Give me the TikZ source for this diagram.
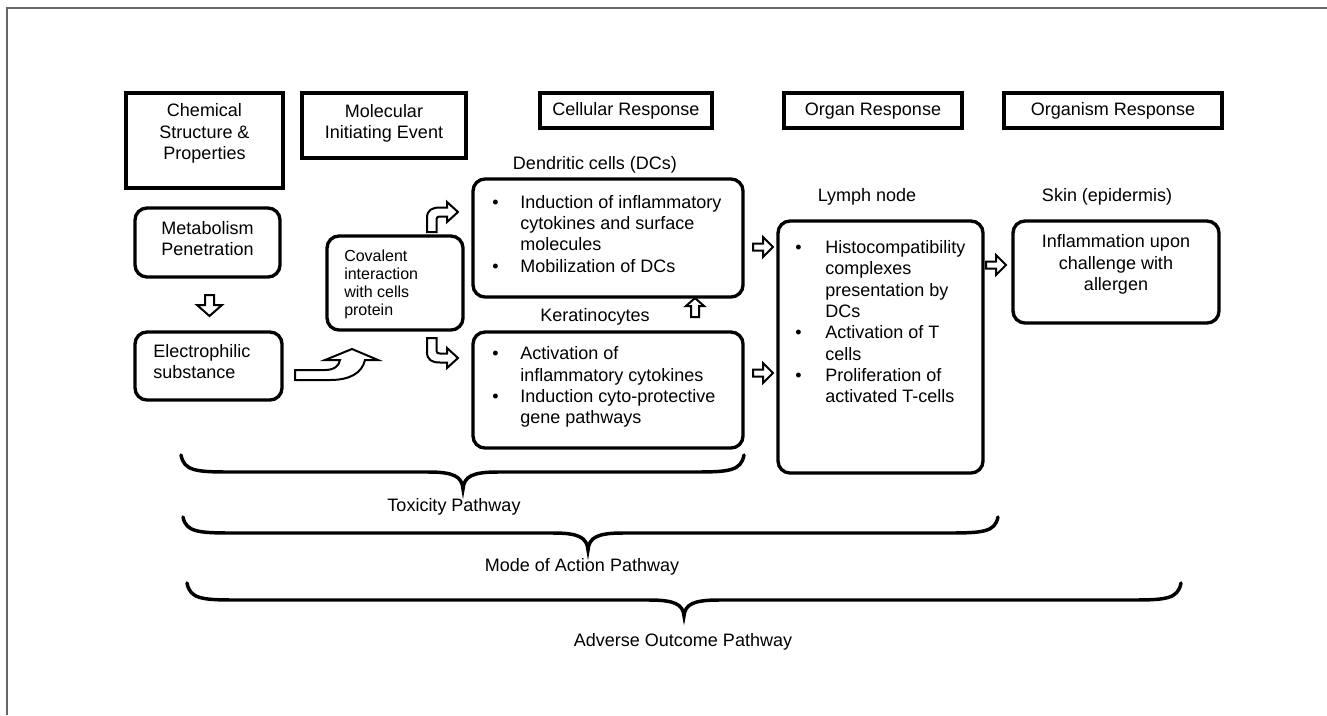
\documentclass[tikz,border=0pt]{standalone}
\usepackage{fontspec}
\setmainfont{Liberation Sans}
\usepackage{array}
\usetikzlibrary{fit}
\newcommand\mylines[1]{\begin{tabular}{@{}c@{}}#1\end{tabular}}
\newcommand\myleft[1]{\begin{tabular}{@{}l@{}}#1\end{tabular}}
\newcommand\mybul[2]{\begin{tabular}{@{}p{#1}@{}l@{}}#2\end{tabular}}
\newcommand\rarr[2]{\draw[blk] (#1,#2-3.5) -- ++(10,0) -- ++(0,-6.5) -- ++(10,10) -- ++(-10,10) -- ++(0,-6.5) -- ++(-10,0) -- cycle;}
\newcommand\mybrace[6]{\draw[brc] (#1,#4) .. controls (#1+3,#5-1) and (#1+15,#5) .. (#1+50,#5) -- (#3-35,#5) .. controls (#3-10,#5) and (#3-1,#5+4) .. (#3,#6) .. controls (#3+1,#5+4) and (#3+10,#5) .. (#3+35,#5) -- (#2-50,#5) .. controls (#2-15,#5) and (#2-3,#5-1) .. (#2,#4);}
\tikzset{
  hdr/.style={draw, line width=2.8pt, inner sep=0pt},
  rbox/.style={draw, line width=2.5pt, rounded corners=9pt, inner sep=0pt},
  blk/.style={draw, line width=1.5pt, fill=white, line join=miter},
  brc/.style={line width=2.6pt, line cap=round},
  txt/.style={inner sep=0pt, font=\fontsize{13.5}{16}\selectfont},
  stxt/.style={inner sep=0pt, font=\fontsize{12}{13.5}\selectfont},
}
\begin{document}
\begin{tikzpicture}[x=0.75pt, y=-0.75pt]
\useasboundingbox (0,0) rectangle (1327,715);
% outer frame
\draw[line width=1.5pt, color=black!60] (7,715) -- (7,7.5) -- (1327,7.5);

% header boxes
\node[hdr, fit={(126,93) (283,188)}] (chemb) {};
\node[txt] (chemt) at (204.5,134) {\mylines{Chemical\\Structure \&\\Properties}};
\node[hdr, fit={(302,93) (466,158)}] (mieb) {};
\node[txt] (miet) at (384,124) {\mylines{Molecular\\Initiating Event}};
\node[hdr, fit={(540,93) (712,128)}] (cellb) {};
\node[txt] (cellt) at (626,111) {Cellular Response};
\node[hdr, fit={(784,93) (962,128)}] (orgb) {};
\node[txt] (orgt) at (873,111) {Organ Response};
\node[hdr, fit={(1004,93) (1222,128)}] (orgmb) {};
\node[txt] (orgmt) at (1113,111) {Organism Response};

% left column
\node[rbox, fit={(135,208) (280,277)}] (metab) {};
\node[txt] (metat) at (207.5,241) {\mylines{Metabolism\\Penetration}};
\node[rbox, fit={(135,332) (282,400)}] (elecb) {};
\node[txt, anchor=west] (elect) at (153,363.5) {\myleft{Electrophilic\\substance}};

% covalent
\node[rbox, fit={(327,236) (463,330)}] (covb) {};
\node[stxt, anchor=west] (covt) at (344,285) {\myleft{Covalent\\interaction\\with cells\\protein}};

% dendritic cells
\node[txt] (dcl) at (595,165) {Dendritic cells (DCs)};
\node[rbox, fit={(473,179) (743,297)}] (dcb) {};
\node[txt, anchor=west] (dct) at (492,236) {\mybul{21pt}{\textbullet & Induction of inflammatory\\ & cytokines and surface\\ & molecules\\ \textbullet & Mobilization of DCs}};

% keratinocytes
\node[txt] (kerl) at (595,317) {Keratinocytes};
\node[rbox, fit={(473,332) (743,448)}] (kerb) {};
\node[txt, anchor=west] (kert) at (492,387.5) {\mybul{21pt}{\textbullet & Activation of\\ & inflammatory cytokines\\ \textbullet & Induction cyto-protective\\ & gene pathways}};

% lymph node
\node[txt] (lyml) at (867,197) {Lymph node};
\node[rbox, fit={(778,221) (983,473)}] (lymb) {};
\node[txt, anchor=west] (lymt) at (795,324) {\mybul{22.5pt}{\textbullet & Histocompatibility\\ & complexes\\ & presentation by\\ & DCs\\ \textbullet & Activation of T\\ & cells\\ \textbullet & Proliferation of\\ & activated T-cells}};

% skin
\node[txt] (skinl) at (1107,197) {Skin (epidermis)};
\node[rbox, fit={(1013,221) (1219,323)}] (skinb) {};
\node[txt] (skint) at (1116,265) {\mylines{Inflammation upon\\challenge with\\allergen}};

% straight block arrows
\rarr{753}{247}
\rarr{753}{373}
\rarr{986}{265}
% down arrow metabolism -> electrophilic
\draw[blk] (205,295) -- (214,295) -- (214,305) -- (222,305) -- (209.5,316) -- (197,305) -- (205,305) -- cycle;
% up arrow keratinocytes -> DCs
\draw[blk] (691,317) -- (699,317) -- (699,306) -- (704,306) -- (695,298) -- (686,306) -- (691,306) -- cycle;
% curved arrow electrophilic -> covalent
\draw[blk] (295,370) -- (325,370) .. controls (334,370) and (339,366) .. (340,360) -- (325,360) -- (352,349) -- (378,360) -- (365,360) .. controls (362,373) and (350,380) .. (330,380) -- (295,380) -- cycle;
% curved arrow covalent -> DCs
\draw[blk] (427,232) -- (427,218) .. controls (427,210) and (432,207.5) .. (440,207.5) -- (447,207.5) -- (447,202) -- (458,212) -- (447,222) -- (447,216.5) -- (440,216.5) .. controls (438,216.5) and (436.5,217) .. (436.5,219) -- (436.5,232) -- cycle;
% curved arrow covalent -> keratinocytes
\draw[blk] (427,338) -- (427,352) .. controls (427,360) and (432,362.5) .. (440,362.5) -- (447,362.5) -- (447,368) -- (458,358) -- (447,348) -- (447,353.5) -- (440,353.5) .. controls (438,353.5) and (436.5,353) .. (436.5,351) -- (436.5,338) -- cycle;

% braces
\mybrace{181}{744}{463}{455}{472}{489}
\node[txt] (toxl) at (454,507) {Toxicity Pathway};
\mybrace{183}{998}{588}{517}{533}{550}
\node[txt] (model) at (582,567) {Mode of Action Pathway};
\mybrace{187}{1181}{684}{583}{600}{616}
\node[txt] (advl) at (683,642) {Adverse Outcome Pathway};
\end{tikzpicture}
\end{document}
